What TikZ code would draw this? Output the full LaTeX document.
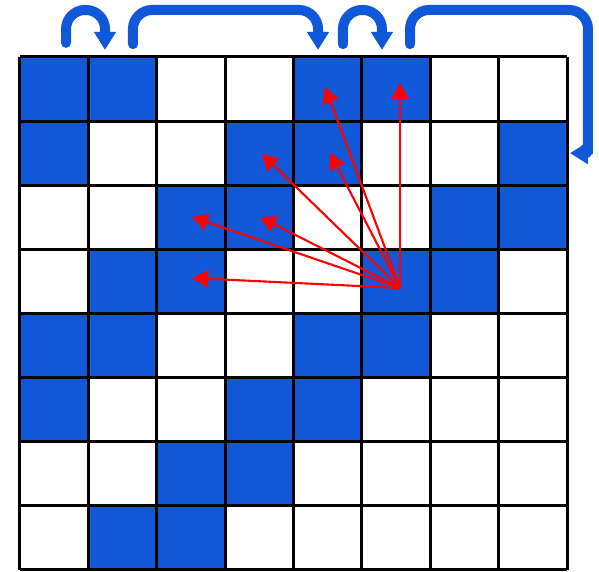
\documentclass[tikz,border=0pt]{standalone}
\usepackage{tikz}
\usetikzlibrary{arrows.meta,calc}
\definecolor{tileblue}{RGB}{16,88,216}

\begin{document}
\begin{tikzpicture}[x=0.684cm, y=0.641cm,
  cell/.style={fill=tileblue},
  grid/.style={draw=black, line width=0.03cm},
  hop/.style={draw=tileblue, line width=0.1cm, line cap=round, rounded corners=0.19cm,
              -{Triangle[length=0.18cm, width=0.21cm]}},
  ray/.style={red, line width=0.6pt, -{Triangle[length=0.16cm, width=0.17cm]}}]
\useasboundingbox (-0.292,-0.034) rectangle (8.465,8.889);
% filled tiles (column, row from bottom)
\foreach \c/\r in {0/7,1/7,4/7,5/7, 0/6,3/6,4/6,7/6, 2/5,3/5,6/5,7/5, 1/4,2/4,5/4,6/4,
                   0/3,1/3,4/3,5/3, 0/2,3/2,4/2, 2/1,3/1, 1/0,2/0}
  \fill[cell] (\c,\r) rectangle ++(1,1);
\foreach \i in {0,...,8} {
  \draw[grid] (\i,0) -- (\i,8);
  \draw[grid] (0,\i) -- (8,\i);
}
% jumps along the top
\coordinate (top) at (0,8.733);
\coordinate (a1) at (0.673,8.22); \coordinate (b1) at (1.243,8.11);
\coordinate (a2) at (1.652,8.20); \coordinate (b2) at (4.357,8.11);
\coordinate (a3) at (4.722,8.20); \coordinate (b3) at (5.292,8.11);
\coordinate (a4) at (5.702,8.20); \coordinate (drop) at (8.304,6.78);
\coordinate (b4) at (8.04,6.5);
\draw[hop] (a1) -- (a1 |- top) -| (b1);
\draw[hop] (a2) -- (a2 |- top) -| (b2);
\draw[hop] (a3) -- (a3 |- top) -| (b3);
\draw[hop] (a4) -- (a4 |- top) -| (drop) to[out=-90, in=0] (b4);
% rays from the source tile
\coordinate (src) at (5.556,4.396);
\foreach \x/\y [count=\i] in {5.556/7.594, 4.459/7.532, 3.538/6.487, 4.532/6.502,
                              2.515/5.504, 3.509/5.504, 2.515/4.552} {
  \coordinate (t\i) at (\x,\y);
  \draw[ray] (src) -- (t\i);
}
\end{tikzpicture}
\end{document}
